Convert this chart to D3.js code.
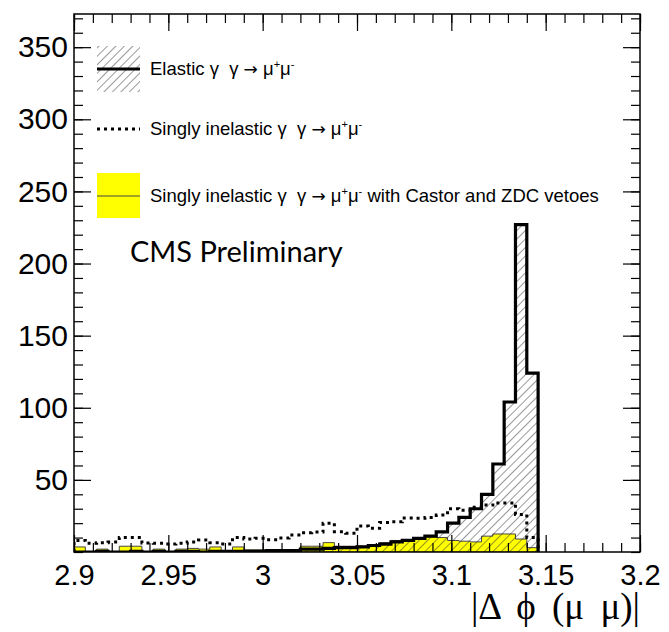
<!DOCTYPE html>
<html>
<head>
<meta charset="utf-8">
<script src="https://cdn.jsdelivr.net/npm/d3@7"></script>
<style>
  body { margin: 0; background: #fff; }
  svg text { fill: #000; }
</style>
</head>
<body>
<svg id="chart" width="669" height="632"></svg>
<script>
// histogram binning: 50 bins of 0.006 between 2.9 and 3.2
const binStart = 2.9;
const binWidth = 0.006;

// elastic gamma gamma -> mu mu (hatched, thick solid line)
const elastic = [0, 0, 0.5, 0, 0, 0.5, 0, 0.5, 0, 0.5, 0.5, 0, 0.5, 0.5, 0.5,
  0.5, 0.5, 1, 1, 1, 2, 2, 2.5, 3, 3, 3.5, 4.5, 5.5, 7, 8, 9.5, 11, 14, 20, 24,
  30, 40, 61, 104, 227, 124];

// singly inelastic (dotted)
const inelastic = [8, 6, 6.5, 7, 10, 10, 6.3, 6, 5.5, 6, 7, 8.3, 6.5, 5.5, 10,
  9, 9.5, 8.5, 9.7, 11.8, 13.4, 13.8, 20, 14, 13, 18, 16.4, 20.5, 21, 23.5, 23.4,
  24, 25.6, 30, 29, 31, 32.5, 34, 34, 26, 10];

// singly inelastic with Castor and ZDC vetoes (yellow)
const vetoed = [3.5, 0, 2, 0, 4, 4, 0, 2, 0, 2, 2.5, 2, 3.5, 0, 3.5, 1.5, 1.5,
  0, 0, 1.5, 4, 4, 6.5, 4, 4, 4, 5, 6.5, 8, 8.5, 10, 10.5, 10, 8, 7.5, 7, 11,
  12.5, 12.5, 9, 3];

const xTicks = [2.9, 2.95, 3, 3.05, 3.1, 3.15, 3.2];
const yTicks = [50, 100, 150, 200, 250, 300, 350];
// each label: [text, kind] where kind is "n" normal, "s" superscript, "a" arrow
const legendLabels = [
  [["Elastic γ  γ ", "n"], ["→", "a"], [" μ", "n"], ["+", "s"], ["μ", "n"], ["-", "s"]],
  [["Singly inelastic γ  γ ", "n"], ["→", "a"], [" μ", "n"], ["+", "s"], ["μ", "n"], ["-", "s"]],
  [["Singly inelastic γ  γ ", "n"], ["→", "a"], [" μ", "n"], ["+", "s"], ["μ", "n"], ["-", "s"],
    [" with Castor and ZDC vetoes", "n"]]
];

const svg = d3.select("svg#chart");
const mLeft = 74, mRight = 640, mTop = 14, mBottom = 552;

const x = d3.scaleLinear().domain([2.9, 3.2]).range([mLeft, mRight]);
const y = d3.scaleLinear().domain([0, 373]).range([mBottom, mTop]);

// hatch pattern like ROOT fill style 3004
const defs = svg.append("defs");
defs.append("pattern")
  .attr("id", "hatch")
  .attr("patternUnits", "userSpaceOnUse")
  .attr("width", 6).attr("height", 6)
  .attr("patternTransform", "rotate(45)")
  .append("line")
  .attr("x1", 0).attr("y1", 0).attr("x2", 0).attr("y2", 6)
  .attr("stroke", "#333").attr("stroke-width", 1);
defs.append("clipPath").attr("id", "plotClip")
  .append("rect")
  .attr("x", mLeft).attr("y", mTop)
  .attr("width", mRight - mLeft).attr("height", mBottom - mTop);

// step outline points for a histogram
const steps = (vals) => {
  const pts = [[binStart, 0]];
  vals.forEach((v, i) => {
    pts.push([binStart + i * binWidth, v]);
    pts.push([binStart + (i + 1) * binWidth, v]);
  });
  pts.push([binStart + vals.length * binWidth, 0]);
  return pts;
};
const line = d3.line().x(d => x(d[0])).y(d => y(d[1]));

const plot = svg.append("g").attr("clip-path", "url(#plotClip)");

// yellow vetoed
plot.append("path")
  .attr("d", line(steps(vetoed)) + "Z")
  .attr("fill", "#ffff00")
  .attr("stroke", "#444")
  .attr("stroke-width", 1);

// elastic hatch + outline
plot.append("path")
  .attr("d", line(steps(elastic)) + "Z")
  .attr("fill", "url(#hatch)")
  .attr("stroke", "none");
plot.append("path")
  .attr("d", line(steps(elastic)))
  .attr("fill", "none")
  .attr("stroke", "#000")
  .attr("stroke-width", 3.2);

// inelastic dotted
plot.append("path")
  .attr("d", line(steps(inelastic)))
  .attr("fill", "none")
  .attr("stroke", "#000")
  .attr("stroke-width", 3)
  .attr("stroke-dasharray", "3,4");

// axes: majors with labels, minors without
const tickFont = "Liberation Sans, Arial, sans-serif";
const styleAxis = (g) => {
  g.select(".domain").remove();
  g.selectAll(".tick line").attr("stroke", "#000").attr("stroke-width", 1.2);
  g.selectAll("text").style("font-family", tickFont).style("font-size", "29px").attr("fill", "#000");
};
const xMinor = d3.range(0, 31).map(i => 2.9 + i * 0.01);
const yMinor = d3.range(0, 38).map(i => i * 10);

svg.append("g").attr("transform", `translate(0,${mBottom})`)
  .call(d3.axisBottom(x).tickValues(xTicks).tickSize(-17).tickPadding(12)
    .tickFormat(d => String(d)))
  .call(styleAxis);
svg.append("g").attr("transform", `translate(0,${mBottom})`)
  .call(d3.axisBottom(x).tickValues(xMinor).tickSize(-9).tickFormat(""))
  .call(styleAxis);
svg.append("g").attr("transform", `translate(0,${mTop})`)
  .call(d3.axisTop(x).tickValues(xTicks).tickSize(-17).tickFormat(""))
  .call(styleAxis);
svg.append("g").attr("transform", `translate(0,${mTop})`)
  .call(d3.axisTop(x).tickValues(xMinor).tickSize(-9).tickFormat(""))
  .call(styleAxis);

svg.append("g").attr("transform", `translate(${mLeft},0)`)
  .call(d3.axisLeft(y).tickValues(yTicks).tickSize(-17).tickPadding(6)
    .tickFormat(d => String(d)))
  .call(styleAxis)
  .call(g => g.selectAll("text").style("font-size", "30px"));
svg.append("g").attr("transform", `translate(${mLeft},0)`)
  .call(d3.axisLeft(y).tickValues(yMinor).tickSize(-9).tickFormat(""))
  .call(styleAxis);
svg.append("g").attr("transform", `translate(${mRight},0)`)
  .call(d3.axisRight(y).tickValues(yTicks).tickSize(-17).tickFormat(""))
  .call(styleAxis);
svg.append("g").attr("transform", `translate(${mRight},0)`)
  .call(d3.axisRight(y).tickValues(yMinor).tickSize(-9).tickFormat(""))
  .call(styleAxis);

// frame
svg.append("rect")
  .attr("x", mLeft).attr("y", mTop)
  .attr("width", mRight - mLeft).attr("height", mBottom - mTop)
  .attr("fill", "none").attr("stroke", "#000").attr("stroke-width", 1.5);

// axis title
svg.append("text")
  .attr("x", mRight).attr("y", 619)
  .attr("text-anchor", "end")
  .style("font-family", "Liberation Serif, Times New Roman, serif")
  .style("font-size", "37px")
  .style("word-spacing", "7px")
  .text("|Δ ϕ (μ μ)|");

// legend
const leg = svg.append("g");
const lx0 = 97, lx1 = 140, textX = 150;
const rows = [69, 129, 196];

leg.append("rect").attr("x", lx0).attr("y", 46).attr("width", lx1 - lx0).attr("height", 46)
  .attr("fill", "url(#hatch)");
leg.append("line").attr("x1", lx0).attr("x2", lx1).attr("y1", rows[0]).attr("y2", rows[0])
  .attr("stroke", "#000").attr("stroke-width", 3.2);
leg.append("line").attr("x1", lx0).attr("x2", lx1).attr("y1", rows[1]).attr("y2", rows[1])
  .attr("stroke", "#000").attr("stroke-width", 3).attr("stroke-dasharray", "3,4");
leg.append("rect").attr("x", lx0).attr("y", 173).attr("width", lx1 - lx0).attr("height", 45)
  .attr("fill", "#ffff00");
leg.append("line").attr("x1", lx0).attr("x2", lx1).attr("y1", rows[2]).attr("y2", rows[2])
  .attr("stroke", "#444").attr("stroke-width", 1.2);

legendLabels.forEach((parts, i) => {
  const t = leg.append("text")
    .attr("x", textX).attr("y", rows[i] + 6)
    .style("font-family", tickFont)
    .style("font-size", "18.5px")
    .style("white-space", "pre");
  let raised = false;
  parts.forEach(([txt, kind]) => {
    const sp = t.append("tspan").text(txt);
    if (kind === "s") {
      sp.attr("dy", raised ? 0 : -7).style("font-size", "11px");
      raised = true;
    } else {
      if (raised) sp.attr("dy", 7);
      raised = false;
      if (kind === "a") sp.style("font-family", "DejaVu Sans, sans-serif").style("font-size", "17px");
    }
  });
});

// CMS label
svg.append("text")
  .attr("x", 130).attr("y", 262)
  .style("font-family", "Lato, 'Open Sans', sans-serif")
  .style("font-size", "29px")
  .text("CMS Preliminary");
</script>
</body>
</html>
